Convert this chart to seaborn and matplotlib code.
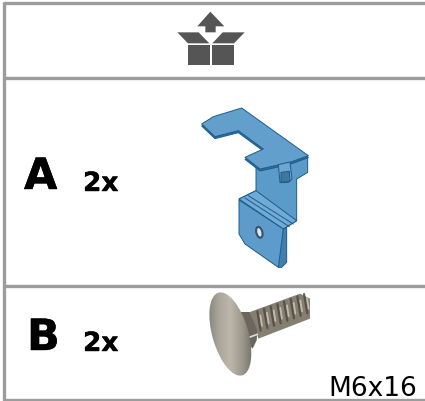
# -*- coding: utf-8 -*-
"""Parts table: unpack icon, bracket A, bolt B."""
import numpy as np, pandas as pd
import matplotlib
matplotlib.use("Agg")
import matplotlib.pyplot as plt
import matplotlib.patheffects as pe
from matplotlib.colors import LinearSegmentedColormap
from matplotlib.patches import Ellipse, Polygon
import seaborn as sns
sns.set_theme(style="white")
plt.rcParams["font.family"] = ["DejaVu Sans"]

# table
row_lines = [4, 79, 287, 400.5]
part_labels = ["A", "B"]
part_counts = ["2x", "2x"]
bolt_size = "M6x16"
GREY = "#9c9c9c"; DARK = "#555555"; EDGE = "#1d5c8c"


def zoomed(pts, x0, y0):
    return [(x0 + x / 3, y0 + y / 3) for x, y in pts]


fig = plt.figure(figsize=(4.25, 4.02), dpi=100)
ax = fig.add_axes([0, 0, 1, 1])
ax.set_xlim(0, 425); ax.set_ylim(402, 0); ax.axis("off")

# grid of the table
for y in row_lines:
    sns.lineplot(x=[3, 425], y=[y, y], color=GREY, lw=2.4, ax=ax, solid_capstyle="butt", errorbar=None)
sns.lineplot(x=[4.5, 4.5], y=[2.7, 402], color=GREY, lw=2.4, ax=ax, errorbar=None, estimator=None,
             sort=False, solid_capstyle="butt")

# unpack icon
icon = [
    [(181, 38), (142, 82), (166, 82), (166, 100), (197, 100), (197, 82), (223, 82)],
    [(82, 100), (146, 100), (178, 133), (114, 133)],
    [(218, 100), (284, 100), (252, 133), (187, 133)],
    [(114, 137), (180, 137), (180, 197), (114, 197)],
    [(186, 137), (252, 137), (252, 197), (186, 197)],
]
for p in icon:
    ax.add_patch(Polygon(zoomed(p, 150, 0), fc=DARK, ec="none"))

# bracket A
plate = [(65, 90), (100, 68), (185, 42), (385, 185), (330, 205), (240, 225), (195, 190), (250, 165),
         (175, 110), (105, 128)]
bracket = [
    ([(228, 215), (383, 185), (383, 235), (350, 255), (350, 380), (310, 405), (177, 315), (228, 290)], "#5b9bca"),
    ([(x, y + 6) for x, y in plate], "#2c6c9c"),
    (plate, "#629fcd"),
    ([(177, 315), (228, 290), (350, 380), (310, 405)], "#6fabd6"),
    ([(177, 318), (310, 405), (310, 510), (295, 520), (195, 450), (177, 420)], "#5c9bca"),
    ([(310, 405), (320, 400), (320, 505), (305, 520), (295, 520)], "#3f7fae"),
    ([(295, 212), (330, 204), (336, 255), (325, 265), (300, 266)], "#6ea6cf"),
    ([(303, 235), (328, 232), (330, 262), (303, 265)], "#3f779f"),
]
for p, c in bracket:
    ax.add_patch(Polygon(zoomed(p, 180, 95), fc=c, ec=EDGE, lw=0.7, joinstyle="round"))
for seg in [[(195, 312), (328, 398)], [(205, 305), (340, 390)]]:
    ax.plot(*zip(*zoomed(seg, 180, 95)), color=EDGE, lw=0.7)
ax.add_patch(Ellipse((180 + 238 / 3, 95 + 415 / 3), 6, 11, angle=-15, fc="#dfe7ec", ec="#33546b", lw=1.5))

# bolt B, points from the crop at (200, 288)
shaft = [(150, 75), (300, 20), (330, 35), (330, 95), (175, 155), (165, 120)]
ax.add_patch(Polygon(zoomed(shaft, 200, 288), fc="#857f72", ec="none"))
for x in np.arange(172, 315, 20):
    top = 75 - (x - 150) * 0.37
    ax.plot(*zip(*zoomed([(x, top + 6), (x + 10, top + 64)], 200, 288)), color="#4f4a40", lw=1.6, alpha=.85)
    ax.plot(*zip(*zoomed([(x + 9, top + 18), (x + 14, top + 50)], 200, 288)), color="#cdc8ba", lw=1.3, alpha=.85)
ax.add_patch(Polygon(zoomed([(115, 75), (150, 75), (172, 130), (170, 160), (158, 185), (125, 150)], 200, 288),
                     fc="#6c675e", ec="none"))
ax.plot(*zip(*zoomed([(150, 150), (172, 142)], 200, 288)), color="#e3dfd3", lw=1.2)

head_cmap = LinearSegmentedColormap.from_list("head", ["#7f7a6e", "#a8a397", "#bdb8ab", "#9d988c", "#6f6a60"])
head = Ellipse((200 + 91 / 3, 288 + 141 / 3), 36, 86, angle=-16, fc="none", ec="none")
ax.add_patch(head)
img = ax.imshow(np.linspace(0, 1, 64)[None, :], cmap=head_cmap, extent=(205, 255, 378, 292), aspect="auto", zorder=3)
img.set_clip_path(head)
ax.set_xlim(0, 425); ax.set_ylim(402, 0)

# labels, the source text is a bit heavier than plain bold
heavy = [pe.withStroke(linewidth=0.3, foreground="black")]
big = dict(fontsize=31, fontweight="bold", color="black", ha="left", va="baseline", path_effects=heavy)
small = dict(fontsize=19, fontweight="bold", color="black", ha="left", va="baseline", path_effects=heavy)
ax.text(24, 190, part_labels[0], **big)
ax.text(27, 351, part_labels[1], **big)
ax.text(83, 192, part_counts[0], **small)
ax.text(83, 352, part_counts[1], **small)
ax.text(417, 396, bolt_size, fontsize=19, color="black", ha="right", va="baseline")

fig.savefig("out.png", dpi=100)
